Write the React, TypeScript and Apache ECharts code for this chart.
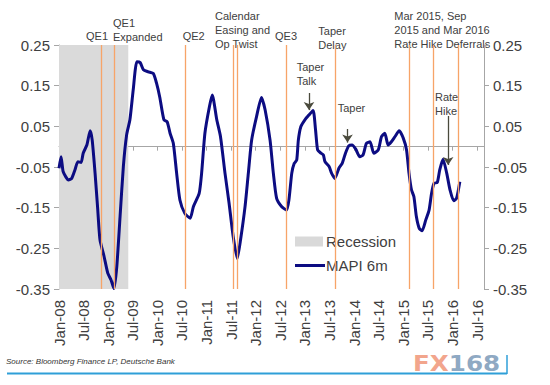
import React, { useEffect, useRef } from "react";
import * as echarts from "echarts";

// x values are months since Jan 2008
const tickMonths = [0, 6, 12, 18, 24, 30, 36, 42, 48, 54, 60, 66, 72, 78, 84, 90, 96, 102];
const monthNames = ["Jan", "Feb", "Mar", "Apr", "May", "Jun", "Jul", "Aug", "Sep", "Oct", "Nov", "Dec"];
const xMax = 103.7;
const yMin = -0.35;
const yMax = 0.25;
const yStep = 0.1;

const months = [
  0, 0.5, 1.0, 1.7, 2.3, 3.1, 3.9, 4.6, 5.4, 5.9, 6.8, 7.6, 8.1, 8.8, 9.4, 10.0, 11.0, 11.9, 12.7, 13.4,
  14.1, 14.9, 15.7, 16.5, 17.3, 18.1, 19.0, 19.8, 20.6, 21.8, 23.0, 23.8, 24.6, 25.6, 26.4, 27.1, 27.9,
  28.7, 29.5, 30.7, 32.0, 32.8, 34.2, 34.8, 35.6, 36.7, 37.4, 38.5, 39.4, 40.5, 41.5, 42.5, 43.5, 44.3,
  45.4, 46.2, 47.0, 48.2, 49.4, 50.3, 51.5, 52.3, 53.1, 54.3, 55.5, 56.1, 56.8, 57.4, 58.0, 58.4, 59.0,
  60.0, 61.0, 62.0, 62.6, 63.1, 63.9, 64.5, 64.9, 65.9, 66.5, 67.3, 68.3, 69.1, 69.9, 70.7, 71.5, 72.4,
  73.4, 74.2, 75.0, 75.9, 76.8, 77.9, 78.7, 79.5, 80.3, 81.1, 82.0, 83.0, 84.0, 84.8, 85.4, 86.0, 86.6,
  87.2, 87.9, 88.6, 89.5, 90.3, 90.9, 91.5, 92.3, 92.9, 93.7, 94.6, 95.4, 96.3, 97.0, 97.8,
];
const mapi = [
  -0.053, -0.025, -0.061, -0.075, -0.082, -0.078, -0.057, -0.037, -0.039, -0.016, 0.004, 0.039, 0.016,
  -0.065, -0.147, -0.229, -0.27, -0.311, -0.328, -0.349, -0.295, -0.172, -0.049, 0.029, 0.066, 0.139,
  0.209, 0.207, 0.189, 0.184, 0.18, 0.156, 0.121, 0.066, 0.061, 0.033, 0.008, -0.065, -0.131, -0.164,
  -0.176, -0.147, -0.115, -0.065, 0.033, 0.098, 0.127, 0.066, 0.025, -0.065, -0.139, -0.221, -0.275,
  -0.229, -0.147, -0.065, 0.016, 0.074, 0.121, 0.09, 0.016, -0.065, -0.127, -0.147, -0.156, -0.131,
  -0.065, -0.041, -0.033, 0.016, 0.049, 0.066, 0.078, 0.089, 0.041, -0.008, -0.016, -0.02, -0.037,
  -0.049, -0.065, -0.078, -0.053, -0.041, -0.016, 0.002, 0.004, -0.006, -0.025, -0.02, 0.008, 0.012,
  -0.016, -0.008, 0.025, 0.033, 0.004, 0.012, 0.025, 0.039, 0.021, -0.008, -0.065, -0.106, -0.123,
  -0.172, -0.201, -0.207, -0.18, -0.156, -0.115, -0.09, -0.088, -0.057, -0.031, -0.065, -0.106, -0.133,
  -0.127, -0.086,
];

const recessionSpan = [0, 16.9];
const eventMonths = [10.4, 13.5, 30.7, 42.4, 43.6, 55.4, 67.3, 85.4, 91.3, 97.4];
const arrowMonths = [61.0, 70.4, 94.95];
const arrowFrom = [0.132, 0.0435, 0.0755];
const arrowTo = [0.09, 0.01, -0.045];

const topNotes = [
  "QE1",
  "QE1\nExpanded",
  "QE2",
  "Calendar\nEasing and\nOp Twist",
  "QE3",
  "Taper\nDelay",
  "Mar 2015, Sep\n2015 and Mar 2016\nRate Hike Deferrals",
  "Taper\nTalk",
  "Taper",
  "Rate\nHike",
];
const notePos = [
  [86, 29],
  [113, 15.5],
  [182.7, 29],
  [215, 9],
  [275, 29],
  [318.3, 24],
  [394.3, 9],
  [296.7, 59.5],
  [337.7, 100.5],
  [435, 89.5],
];

const FONT = '"Liberation Sans", Arial, sans-serif';
const TEXT = "#404040";
const AXIS = "#a6a6a6";

function fmtMonth(v: number) {
  const i = Math.round(v);
  const yy = 8 + Math.floor(i / 12);
  return `${monthNames[i % 12]}-${String(yy).padStart(2, "0")}`;
}

export default function App() {
  const ref = useRef<HTMLDivElement>(null);
  useEffect(() => {
    if (!ref.current) return;
    const chart = echarts.init(ref.current, undefined, { renderer: "svg" });
    const yAxisCommon = {
      type: "value",
      min: yMin,
      max: yMax,
      interval: yStep,
      splitLine: { show: false },
      axisLine: { show: true, onZero: false, lineStyle: { color: AXIS, width: 1 } },
      axisTick: { show: true, length: 5, lineStyle: { color: AXIS } },
      axisLabel: {
        fontSize: 15,
        color: TEXT,
        fontFamily: FONT,
        margin: 9,
        formatter: (v: number) => v.toFixed(2),
      },
    };
    const option: any = {
      animation: false,
      backgroundColor: "#ffffff",
      grid: { left: 59, right: 66, top: 45, bottom: 96, containLabel: false, outerBoundsMode: "none" },
      xAxis: [
        {
          type: "value",
          min: 0,
          max: xMax,
          position: "bottom",
          splitLine: { show: false },
          axisLine: { show: false, onZero: false },
          axisTick: { show: false },
          axisLabel: {
            rotate: 90,
            fontSize: 15,
            color: TEXT,
            fontFamily: FONT,
            margin: 11,
            customValues: tickMonths,
            formatter: (v: number) => fmtMonth(v),
          },
        },
        {
          type: "value",
          min: 0,
          max: xMax,
          position: "bottom",
          splitLine: { show: false },
          axisLine: { show: true, onZero: true, lineStyle: { color: AXIS, width: 1 } },
          axisTick: { show: true, length: 4, customValues: tickMonths, lineStyle: { color: AXIS } },
          axisLabel: { show: false },
        },
      ],
      yAxis: [
        { ...yAxisCommon, position: "left" },
        { ...yAxisCommon, position: "right" },
      ],
      legend: [
        {
          data: [{ name: "Recession", icon: "rect" }],
          left: 295,
          top: 234,
          padding: 0,
          itemWidth: 28,
          itemHeight: 10,
          selectedMode: false,
          textStyle: { fontSize: 15, color: TEXT, fontFamily: FONT, padding: [0, 0, 0, -2] },
        },
        {
          data: [{ name: "MAPI 6m", icon: "rect" }],
          left: 295,
          top: 258,
          padding: 0,
          itemWidth: 30,
          itemHeight: 3,
          selectedMode: false,
          textStyle: { fontSize: 15, color: TEXT, fontFamily: FONT, padding: [0, 0, 0, -4] },
        },
      ],
      series: [
        {
          name: "Recession",
          type: "line",
          data: [],
          z: 1,
          color: "#d9d9d9",
          markArea: {
            silent: true,
            itemStyle: { color: "#dadada" },
            data: [[{ xAxis: recessionSpan[0] }, { xAxis: recessionSpan[1] }]],
          },
        },
        {
          name: "Events",
          type: "line",
          data: [],
          z: 2,
          markLine: {
            silent: true,
            symbol: "none",
            label: { show: false },
            lineStyle: { color: "#f7a468", width: 1.3, type: "solid" },
            data: eventMonths.map((m) => ({ xAxis: m })),
          },
        },
        {
          name: "MAPI 6m",
          type: "line",
          z: 3,
          color: "#0c0c82",
          symbol: "none",
          smooth: 0.2,
          lineStyle: { width: 3, color: "#0c0c82" },
          data: months.map((m, i) => [m, mapi[i]]),
        },
        {
          name: "Arrows",
          type: "line",
          data: [],
          z: 4,
          markLine: {
            silent: true,
            symbol: ["none", "arrow"],
            symbolSize: 8,
            label: { show: false },
            lineStyle: { color: "#4a4a3c", width: 1.3, type: "solid" },
            data: arrowMonths.map((m, i) => [
              { coord: [m, arrowFrom[i]] },
              { coord: [m, arrowTo[i]] },
            ]),
          },
        },
      ],
      graphic: [
        ...topNotes.map((t, i) => ({
          type: "text",
          x: notePos[i][0],
          y: notePos[i][1],
          style: {
            text: t,
            fill: TEXT,
            font: `11px ${FONT}`,
            lineHeight: 14,
            verticalAlign: "top",
          },
        })),
        {
          type: "text",
          x: 6,
          y: 361,
          style: {
            text: "Source: Bloomberg Finance LP, Deutsche Bank",
            fill: "#333333",
            font: `italic 8px ${FONT}`,
            verticalAlign: "middle",
          },
        },
        {
          type: "line",
          shape: { x1: 7, y1: 373.5, x2: 507, y2: 373.5 },
          style: { stroke: "#2f9fd8", lineWidth: 2 },
        },
        {
          type: "line",
          shape: { x1: 507, y1: 355, x2: 507, y2: 374 },
          style: { stroke: "#2f9fd8", lineWidth: 1.5 },
        },
        {
          type: "text",
          x: 413,
          y: 352,
          scaleX: 1.12,
          style: {
            text: "{a|FX}{b|168}",
            font: `bold 22px "DejaVu Sans", sans-serif`,
            verticalAlign: "top",
            rich: {
              a: { fill: "#f2a58c", font: `bold 22px "DejaVu Sans", sans-serif` },
              b: { fill: "#8fa9c3", font: `bold 22px "DejaVu Sans", sans-serif` },
            },
          },
        },
      ],
    };
    chart.setOption(option);
    return () => chart.dispose();
  }, []);
  return (
    <div
      ref={ref}
      style={{ position: "fixed", left: 0, top: 0, width: 550, height: 385, background: "#fff" }}
    />
  );
}
